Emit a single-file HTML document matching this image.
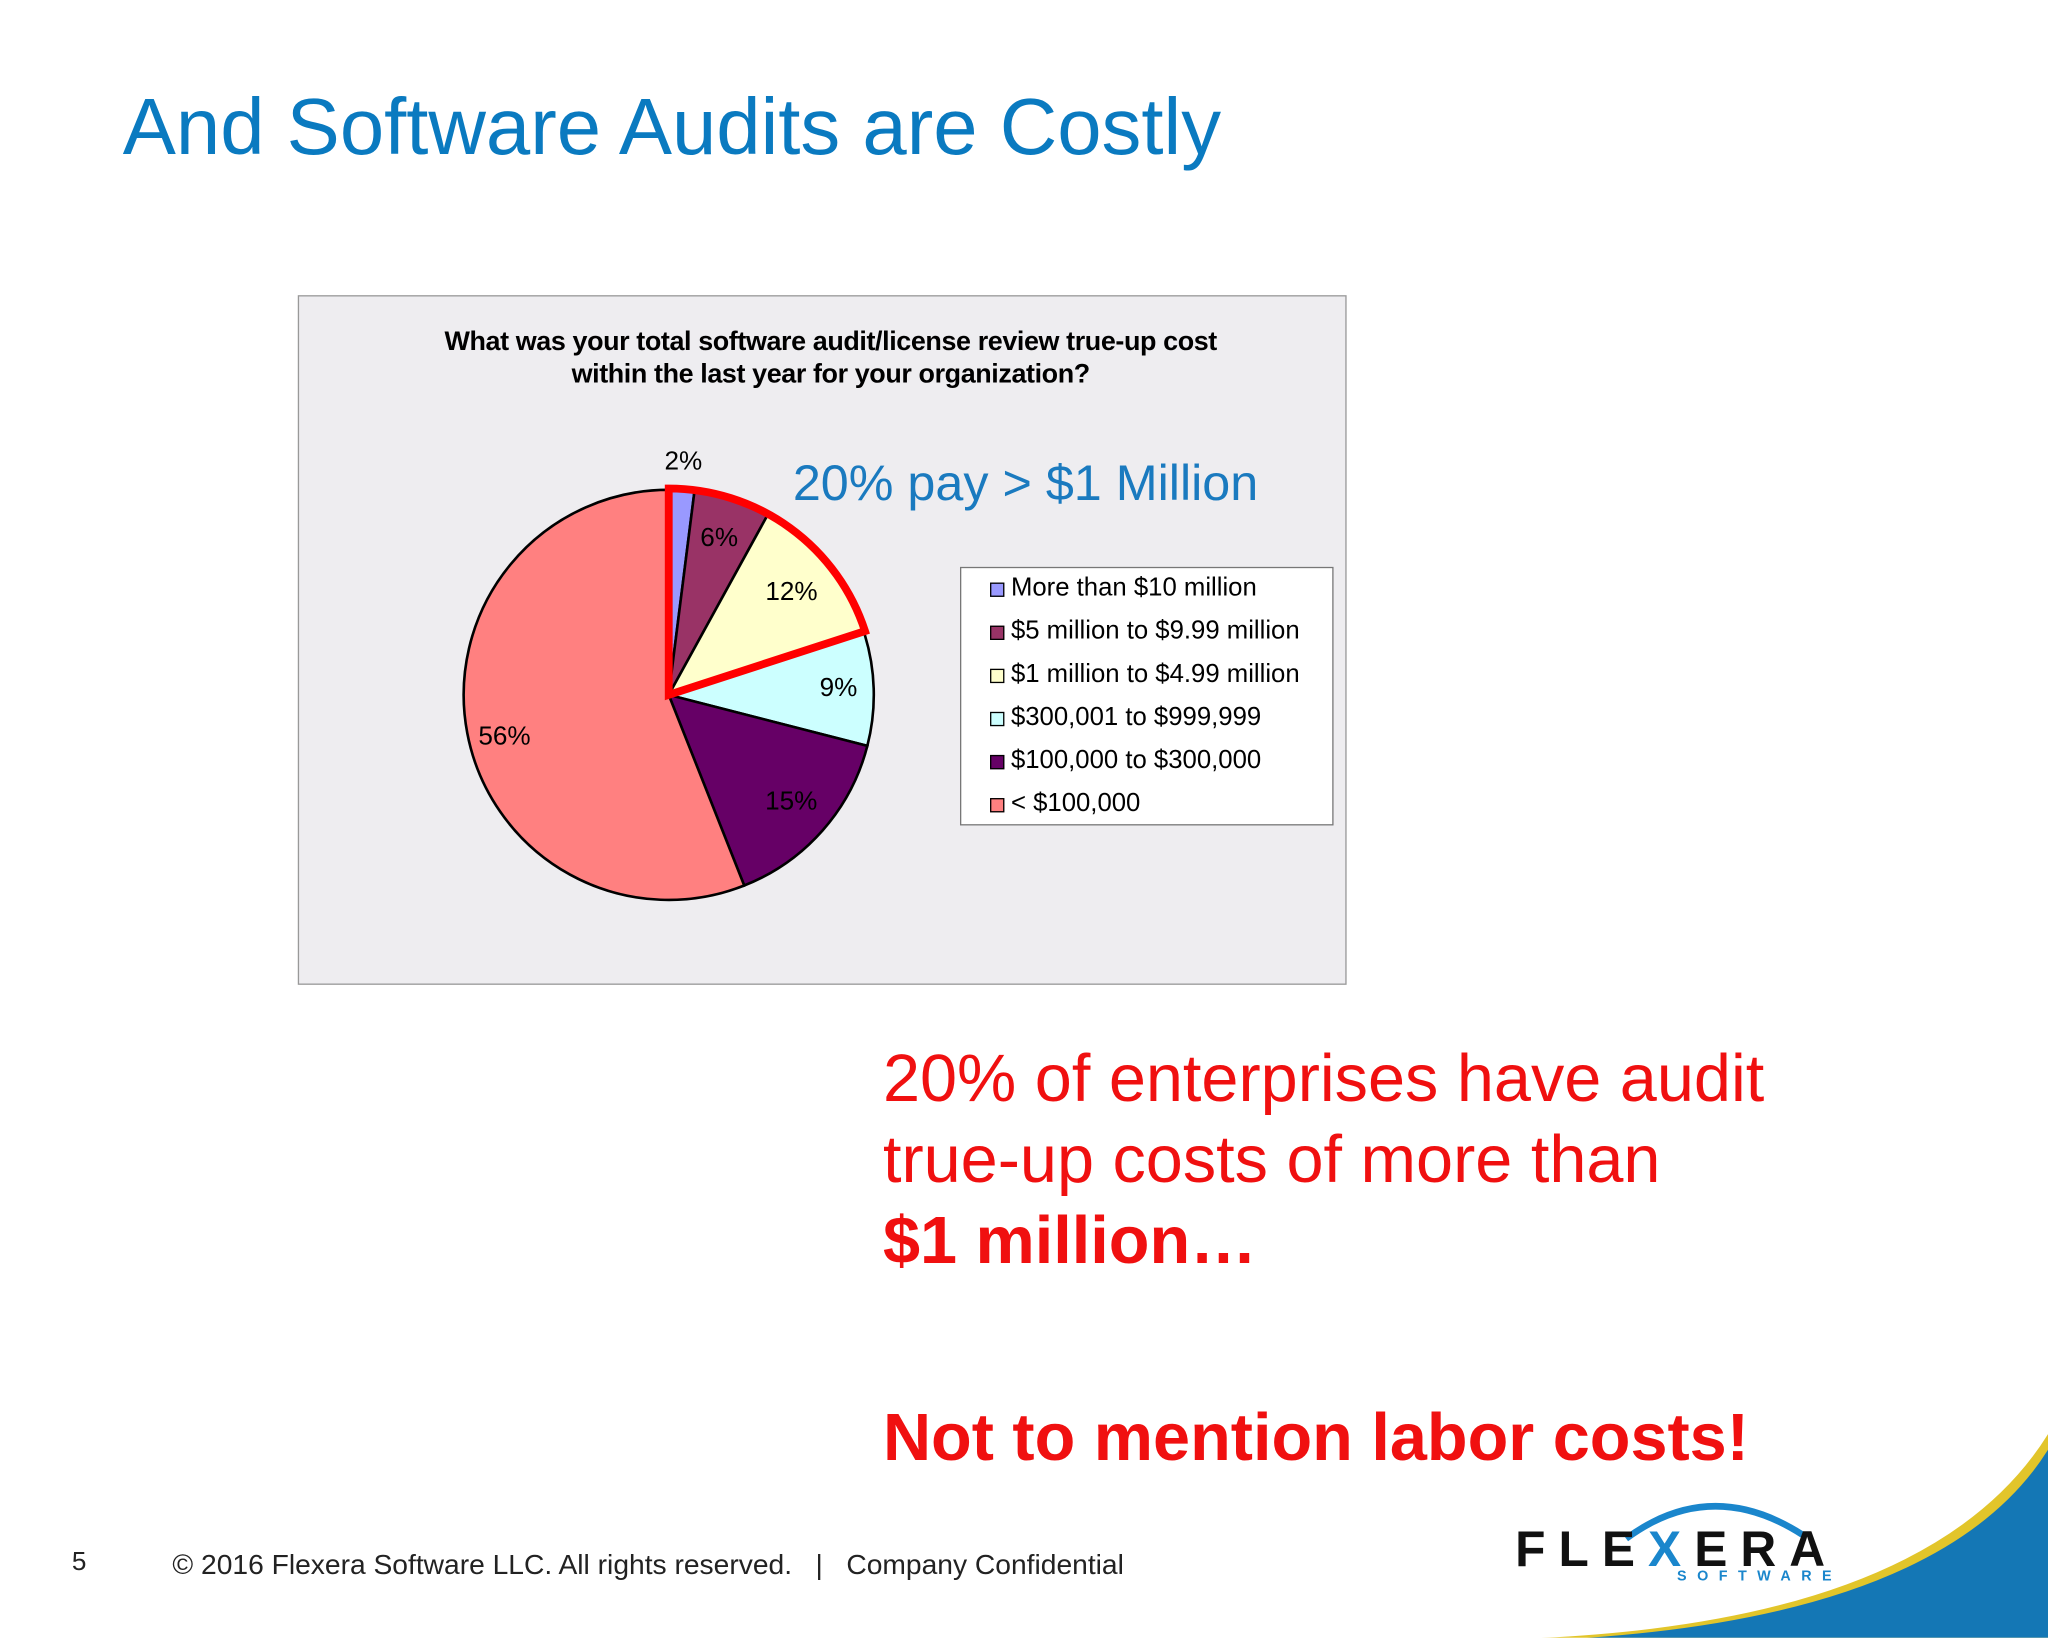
<!DOCTYPE html>
<html><head><meta charset="utf-8"><style>
html,body{margin:0;padding:0;background:#fff;}
#wrap{position:absolute;left:0;top:0;width:1568px;height:1254px;transform:scale(1.306122);transform-origin:0 0;overflow:hidden;background:#fff;font-family:"Liberation Sans",sans-serif;}
.t{position:absolute;white-space:nowrap;}
</style></head><body>
<div id="wrap">
<div class="t" style="left:94px;top:62px;font-size:61px;color:#0a7ac0;">And Software Audits are Costly</div>
<div style="position:absolute;left:228px;top:226px;width:801px;height:526px;background:#eeedf0;border:1px solid #999;"></div>
<div class="t" style="left:228px;width:816px;top:249px;text-align:center;font-size:20.6px;font-weight:bold;line-height:25px;color:#000;letter-spacing:-0.3px;">What was your total software audit/license review true-up cost<br>within the last year for your organization?</div>
<svg id="pie" style="position:absolute;left:0;top:0;" width="1568" height="1254"></svg>
<div class="t" style="left:607px;top:349px;font-size:38.5px;color:#1a7abf;">20% pay &gt; $1 Million</div>
<div style="position:absolute;left:735px;top:434px;width:284px;height:196px;background:#fff;border:1px solid #777;"></div>
<div class="t" style="left:676px;top:795px;font-size:51px;line-height:62px;color:#f01010;">20% of enterprises have audit<br>true-up costs of more than<br><b>$1 million…</b></div>
<div class="t" style="left:676px;top:1071px;font-size:51px;font-weight:bold;color:#f01010;">Not to mention labor costs!</div>
<div class="t" style="left:55px;top:1185px;font-size:20px;color:#222;">5</div>
<div class="t" style="left:132px;top:1185px;font-size:21.6px;color:#222;">© 2016 Flexera Software LLC. All rights reserved. &nbsp;&nbsp;| &nbsp;&nbsp;Company Confidential</div>
<svg style="position:absolute;left:0;top:0;" width="1568" height="1254">
<path d="M1180 1254 Q1480 1240 1568 1098 L1568 1254 Z" fill="#e2c52a"/>
<path d="M1215 1254 Q1490 1235 1568 1110 L1568 1254 Z" fill="#1477b5"/>
<path d="M1245 1178 Q1310 1130 1380 1175" fill="none" stroke="#1a86cc" stroke-width="5"/>
</svg>
<div class="t" style="left:1160px;top:1166px;font-size:38px;font-weight:bold;letter-spacing:10px;color:#111;">FLE<span style="color:#1a86cc">X</span>ERA</div>
<div class="t" style="left:1284px;top:1201px;font-size:11px;font-weight:bold;letter-spacing:8px;color:#1a86cc;">SOFTWARE</div>
</div>
<script>
const categories=["More than $10 million","$5 million to $9.99 million","$1 million to $4.99 million","$300,001 to $999,999","$100,000 to $300,000","< $100,000"];
const values=[2,6,12,9,15,56];
const labels=["2%","6%","12%","9%","15%","56%"];
const colors=["#9999ff","#993366","#ffffcc","#ccffff","#660066","#ff8080"];
const NS="http://www.w3.org/2000/svg";
const svg=document.getElementById('pie');
const cx=512,cy=532,r=157;
const total=values.reduce((a,b)=>a+b,0);
function pt(frac,rad){const a=frac*2*Math.PI-Math.PI/2;return [cx+rad*Math.cos(a),cy+rad*Math.sin(a)];}
let acc=0;const fracs=[];
values.forEach((v,i)=>{
  const f0=acc/total;acc+=v;const f1=acc/total;fracs.push([f0,f1]);
  const p0=pt(f0,r),p1=pt(f1,r);
  const large=(f1-f0)>0.5?1:0;
  const path=document.createElementNS(NS,'path');
  path.setAttribute('d',`M${cx} ${cy} L${p0[0]} ${p0[1]} A${r} ${r} 0 ${large} 1 ${p1[0]} ${p1[1]} Z`);
  path.setAttribute('fill',colors[i]);path.setAttribute('stroke','#000');path.setAttribute('stroke-width','2');
  
  
  svg.appendChild(path);
});
const labelRad=[178,125,122,130,125,128];
values.forEach((v,i)=>{
  const mid=(fracs[i][0]+fracs[i][1])/2;
  const p=pt(mid,labelRad[i]);
  const t=document.createElementNS(NS,'text');
  t.setAttribute('x',p[0]);t.setAttribute('y',p[1]+(i===5?14:5));
  t.setAttribute('text-anchor','middle');t.setAttribute('font-size','20');
  t.setAttribute('font-family','Liberation Sans, sans-serif');t.setAttribute('fill','#000');
  t.textContent=labels[i];
  
  
  svg.appendChild(t);
});
const hf=(values[0]+values[1]+values[2])/total;
const h1=pt(hf,r+1);
const hl=document.createElementNS(NS,'path');
hl.setAttribute('d',`M${cx} ${cy} L${cx} ${cy-r-1} A${r+1} ${r+1} 0 0 1 ${h1[0]} ${h1[1]} Z`);
hl.setAttribute('fill','none');hl.setAttribute('stroke','#ff0000');hl.setAttribute('stroke-width','6');hl.setAttribute('stroke-linejoin','miter');


svg.appendChild(hl);
categories.forEach((c,i)=>{
  const y=445+i*33;
  const sw=document.createElement('div');
  sw.style.cssText=`position:absolute;left:758px;top:${y+1}px;width:9px;height:9px;background:${colors[i]};border:1px solid #000;`;
  
  
  document.getElementById('wrap').appendChild(sw);
  const tx=document.createElement('div');
  tx.className='t';
  tx.style.cssText=`left:774px;top:${y-6}px;font-size:19.7px;color:#000;`;
  tx.textContent=c;
  
  
  document.getElementById('wrap').appendChild(tx);
});
</script>
</body></html>
